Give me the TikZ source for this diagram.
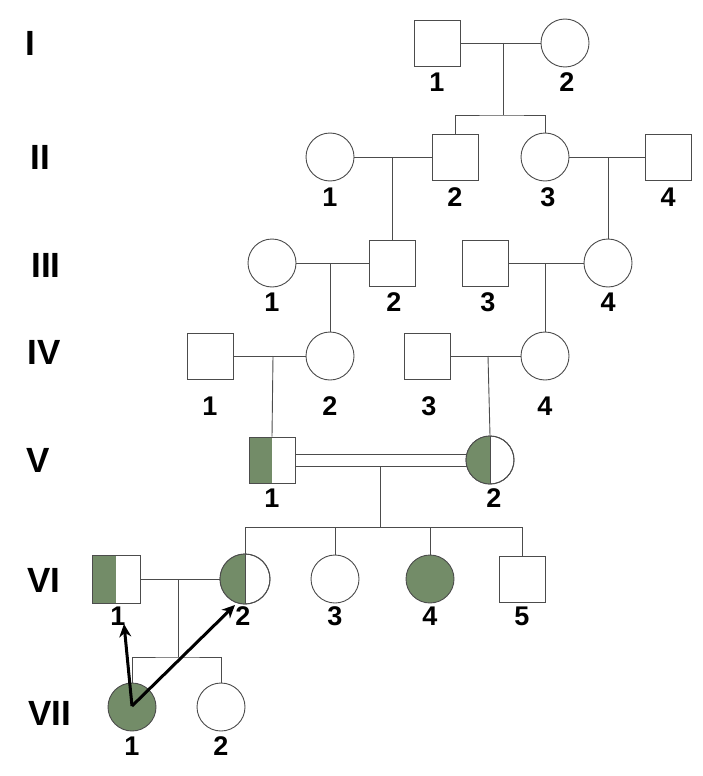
\documentclass[tikz,border=0pt]{standalone}
\usepackage{fontspec}
\setmainfont{Liberation Sans}
\usetikzlibrary{arrows.meta}
\definecolor{aff}{HTML}{738C68}
\begin{document}
\begin{tikzpicture}[x=1pt,y=-1pt,
  ln/.style={draw=black!70,line width=0.9pt},
  male/.style={ln,fill=white,minimum size=46pt,inner sep=0pt,shape=rectangle},
  fem/.style={ln,fill=white,minimum size=48pt,inner sep=0pt,shape=circle},
  num/.style={font=\bfseries\fontsize{27}{27}\selectfont,inner sep=0pt},
  gen/.style={font=\bfseries\fontsize{35}{35}\selectfont,inner sep=0pt},
  arr/.style={line width=3pt,-{Stealth[length=13pt,width=12pt]}}]
\useasboundingbox (0,0) rectangle (702,776);
% generation labels
\node[gen] (gI) at (30,43) {I};
\node[gen] (gII) at (40,157) {II};
\node[gen] (gIII) at (46,265) {III};
\node[gen] (gIV) at (44,352) {IV};
\node[gen] (gV) at (38,460) {V};
\node[gen] (gVI) at (44,580) {VI};
\node[gen] (gVII) at (50,713) {VII};
% Gen I
\node[male] (i1) at (437,43) {}; \node[num] at (437,82) {1};
\node[fem] (i2) at (565,43) {}; \node[num] at (567,82) {2};
\draw[ln] (i1.east) -- (i2.west);
% Gen II
\node[fem] (ii1) at (330,157) {}; \node[num] at (330,197) {1};
\node[male] (ii2) at (455,157) {}; \node[num] at (455,197) {2};
\node[fem] (ii3) at (545,157) {}; \node[num] at (548,197) {3};
\node[male] (ii4) at (668,157) {}; \node[num] at (668,197) {4};
\coordinate (m1) at (503,43); \coordinate (s1) at (503,115);
\draw[ln] (m1) -- (s1);
\draw[ln] (ii2.north) |- (s1) -| (ii3.north);
\draw[ln] (ii1.east) -- (ii2.west);
\draw[ln] (ii3.east) -- (ii4.west);
% Gen III
\node[fem] (iii1) at (272,263) {}; \node[num] at (272,302) {1};
\node[male] (iii2) at (392,263) {}; \node[num] at (394,302) {2};
\node[male] (iii3) at (485,263) {}; \node[num] at (488,302) {3};
\node[fem] (iii4) at (608,263) {}; \node[num] at (608,302) {4};
\draw[ln] (iii2.north) -- (392,157);
\draw[ln] (iii4.north) -- (608,157);
\draw[ln] (iii1.east) -- (iii2.west);
\draw[ln] (iii3.east) -- (iii4.west);
% Gen IV
\node[male] (iv1) at (210,356) {}; \node[num] at (210,406) {1};
\node[fem] (iv2) at (330,356) {}; \node[num] at (330,406) {2};
\node[male] (iv3) at (427,356) {}; \node[num] at (429,406) {3};
\node[fem] (iv4) at (545,356) {}; \node[num] at (545,406) {4};
\draw[ln] (iv2.north) -- (330,263);
\draw[ln] (iv4.north) -- (545,263);
\draw[ln] (iv1.east) -- (iv2.west);
\draw[ln] (iv3.east) -- (iv4.west);
% Gen V
\node[male] (v1) at (272,460) {};
\fill[aff] (249,437) rectangle (272,483);
\draw[ln] (249,437) rectangle (295,483);
\node[num] at (272,498) {1};
\node[fem] (v2) at (490,460) {};
\fill[aff] (490,436) arc (-90:-270:24) -- cycle;
\draw[ln] (490,460) circle (24); \draw[ln] (490,436) -- (490,484);
\node[num] at (494,498) {2};
\draw[ln] (v1.north) -- (273,356);
\draw[ln] (v2.north) -- (488,356);
\draw[ln] (295,454) -- (466,454);
\draw[ln] (295,466) -- (467,466);
% Gen VI
\coordinate (s5) at (380,527);
\draw[ln] (380,466) -- (s5);
\node[male,minimum size=48pt] (vi1) at (116,579) {};
\fill[aff] (92,555) rectangle (116,603);
\draw[ln] (92,555) rectangle (140,603);
\node[num] at (118,616) {1};
\node[fem,minimum size=50pt] (vi2) at (245,579) {};
\fill[aff] (245,554) arc (-90:-270:25) -- cycle;
\draw[ln] (245,579) circle (25); \draw[ln] (245,554) -- (245,604);
\node[num] at (243,616) {2};
\node[fem] (vi3) at (335,579) {}; \node[num] at (335,616) {3};
\node[fem,fill=aff] (vi4) at (430,579) {}; \node[num] at (430,616) {4};
\node[male] (vi5) at (522,579) {}; \node[num] at (522,616) {5};
\draw[ln] (vi2.north) |- (vi5.north |- s5) -- (vi5.north);
\draw[ln] (vi3.north) -- (vi3.north |- s5);
\draw[ln] (vi4.north) -- (vi4.north |- s5);
\draw[ln] (vi1.east) -- (vi2.west);
% Gen VII
\coordinate (s6) at (178,657);
\draw[ln] (178,579) -- (s6);
\node[fem,fill=aff] (vii1) at (132,707) {}; \node[num] at (132,746) {1};
\node[fem] (vii2) at (221,707) {}; \node[num] at (221,746) {2};
\draw[ln] (vii1.north) |- (s6) -| (vii2.north);
\coordinate (t) at (132,706);
\coordinate (h1) at (124,624);
\coordinate (h2) at (235,605);
\draw[arr] (t) -- (h1);
\draw[arr] (t) -- (h2);
\end{tikzpicture}
\end{document}
